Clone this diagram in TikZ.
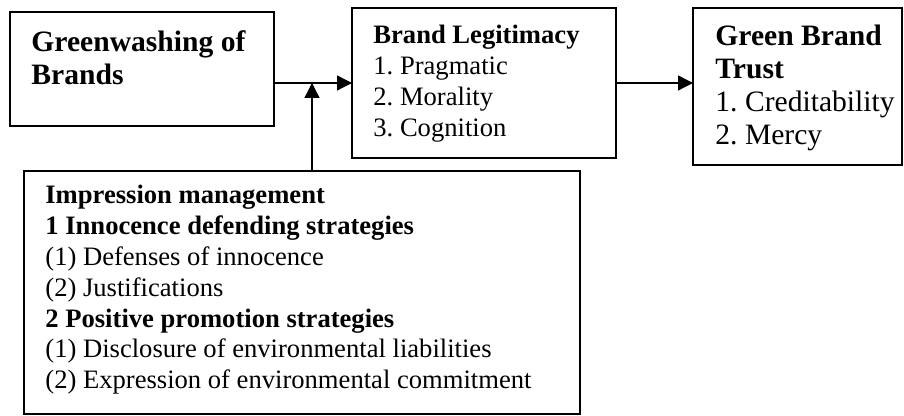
\documentclass[tikz,border=0pt]{standalone}
\usepackage{fontspec}
\setmainfont{Liberation Serif}
\usetikzlibrary{arrows.meta}
\frenchspacing
\tikzset{
  box/.style={draw, line width=1pt, anchor=north west, inner sep=0pt, outer sep=0pt},
  txt/.style={anchor=north west, inner sep=0pt, align=left, font=\fontsize{13.3}{15.4}\selectfont},
  bigtxt/.style={txt, font=\fontsize{14.8}{16.5}\selectfont},
  arr/.style={line width=0.65pt, -{Triangle[length=7.5pt,width=7.5pt]}}
}
\begin{document}
\begin{tikzpicture}[x=0.5pt,y=-0.5pt]
  \useasboundingbox (0,0) rectangle (904,416);
  % boxes
  \node[box, minimum width=132pt, minimum height=57pt] (wash) at (10,12) {};
  \node[box, minimum width=132pt, minimum height=75pt] (legit) at (352,8) {};
  \node[box, minimum width=104.5pt, minimum height=78.5pt] (trust) at (693,8) {};
  \node[box, minimum width=278pt, minimum height=121.5pt] (impr) at (24,171) {};
  % texts in the boxes
  \node[bigtxt] (washtxt) at ([shift={(21,18)}]wash.north west)
    {\textbf{Greenwashing of}\\\textbf{Brands}};
  \node[txt] (legittxt) at ([shift={(21,17)}]legit.north west)
    {\textbf{Brand Legitimacy}\\1. Pragmatic\\2. Morality\\3. Cognition};
  \node[bigtxt] (trusttxt) at ([shift={(22,17)}]trust.north west)
    {\textbf{Green Brand}\\\textbf{Trust}\\1. Creditability\\2. Mercy};
  \node[txt] (imprtxt) at ([shift={(21,14)}]impr.north west)
    {\textbf{Impression management}\\
     \textbf{1 Innocence defending strategies}\\
     (1) Defenses of innocence\\
     (2) Justifications\\
     \textbf{2 Positive promotion strategies}\\
     (1) Disclosure of environmental liabilities\\
     (2) Expression of environmental commitment};
  % arrows
  \coordinate (join) at (312,83);
  \draw[arr] (wash.east |- legit.west) -- (legit.west);
  \draw[arr] (legit.east) -- (trust.west |- legit.east);
  \draw[arr] (join |- impr.north) -- (join);
\end{tikzpicture}
\end{document}
